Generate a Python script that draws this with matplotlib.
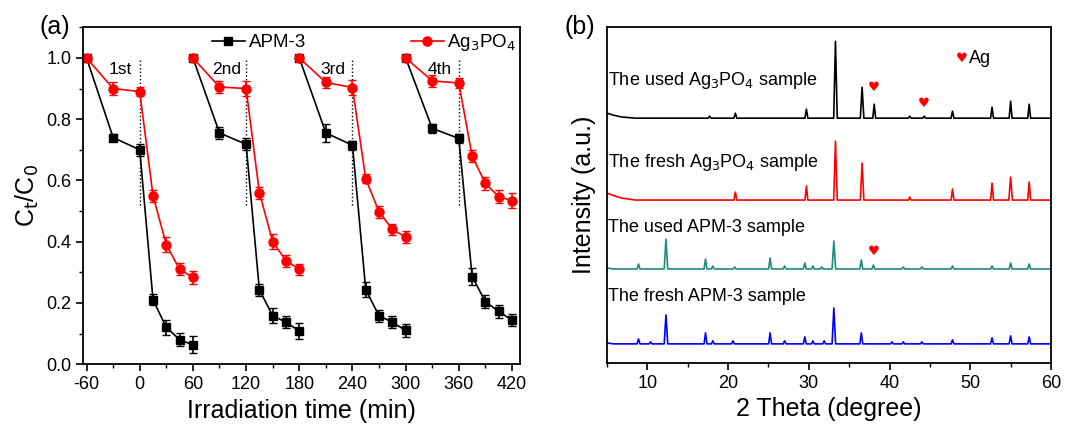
import matplotlib.pyplot as plt
import numpy as np
from matplotlib.ticker import MultipleLocator
from matplotlib.lines import Line2D

plt.rcParams['font.family'] = ['Liberation Sans', 'DejaVu Sans']
plt.rcParams['axes.unicode_minus'] = False

# ---- (a) cycling data ----
cycle_t = [[-60, -30, 0, 15, 30, 45, 60],
           [60, 90, 120, 135, 150, 165, 180],
           [180, 210, 240, 255, 270, 285, 300],
           [300, 330, 360, 375, 390, 405, 420]]
apm = [[1.0, 0.74, 0.70, 0.21, 0.12, 0.08, 0.063],
       [1.0, 0.755, 0.718, 0.243, 0.158, 0.137, 0.108],
       [1.0, 0.755, 0.715, 0.243, 0.158, 0.137, 0.11],
       [1.0, 0.77, 0.737, 0.286, 0.204, 0.172, 0.144]]
apm_err = [[0, 0.012, 0.02, 0.018, 0.025, 0.022, 0.028],
           [0, 0.02, 0.02, 0.02, 0.025, 0.02, 0.025],
           [0, 0.028, 0.015, 0.025, 0.02, 0.02, 0.022],
           [0, 0.015, 0.015, 0.028, 0.022, 0.02, 0.02]]
ag = [[1.0, 0.90, 0.89, 0.55, 0.39, 0.31, 0.283],
      [1.0, 0.905, 0.90, 0.56, 0.40, 0.338, 0.31],
      [1.0, 0.92, 0.903, 0.605, 0.498, 0.44, 0.415],
      [1.0, 0.925, 0.918, 0.68, 0.59, 0.547, 0.534]]
ag_err = [[0, 0.02, 0.015, 0.02, 0.025, 0.02, 0.022],
          [0, 0.018, 0.025, 0.02, 0.025, 0.02, 0.018],
          [0, 0.018, 0.025, 0.015, 0.02, 0.018, 0.02],
          [0, 0.02, 0.015, 0.02, 0.02, 0.022, 0.025]]
cycle_names = ['1st', '2nd', '3rd', '4th']
light_on = [0, 120, 240, 360]

# ---- (b) XRD patterns: baseline, left rise, peak positions and heights ----
xrd_labels = [r'The used Ag$_3$PO$_4$ sample', r'The fresh Ag$_3$PO$_4$ sample',
              'The used APM-3 sample', 'The fresh APM-3 sample']
xrd_colors = ['black', 'red', '#1f8a80', '#0000ff']
xrd_base = [245, 163, 94, 19]
rise_x = [5.0, 5.8, 6.8, 8.5]
xrd_rise = [[5, 3, 1.2, 0], [7, 4.5, 2, 0], [1, 0, 0, 0], [1, 0, 0, 0]]
xrd_pos = [[17.7, 20.9, 29.7, 33.3, 36.6, 38.1, 42.5, 44.3, 47.8, 52.7, 55.0, 57.3],
           [20.9, 29.7, 33.3, 36.6, 42.5, 47.8, 52.7, 55.0, 57.3],
           [8.9, 12.3, 17.2, 18.1, 20.8, 25.2, 27.0, 29.5, 30.5, 31.6, 33.1, 36.5,
            38.0, 41.7, 44.0, 47.8, 52.7, 55.0, 57.3],
           [8.9, 10.4, 12.3, 17.2, 18.1, 20.6, 25.2, 27.0, 29.5, 30.5, 31.9, 33.1,
            36.5, 40.3, 41.7, 44.0, 47.8, 52.7, 55.0, 57.3]]
xrd_h = [[2, 5, 9, 77, 31, 14, 2, 2, 7, 11, 17, 14],
         [8, 14, 59, 37, 3, 11, 17, 23, 18],
         [5, 30, 10, 3, 2, 11, 3, 6, 3, 2, 28, 9, 4, 2, 2, 3, 3, 6, 5],
         [5, 2, 29, 11, 3, 3, 11, 3, 7, 3, 3, 36, 11, 2, 2, 2, 4, 6, 8, 7]]
hearts = [(38.1, 276), (44.3, 260), (38.0, 111)]

fig = plt.figure(figsize=(10.71, 4.33), dpi=100)
ax1 = fig.add_axes([0.0775, 0.159, 0.408, 0.778])
ax2 = fig.add_axes([0.5668, 0.162, 0.4145, 0.775])

for i in range(4):
    ax1.errorbar(cycle_t[i], apm[i], yerr=apm_err[i], color='black', marker='s',
                 markersize=6, linewidth=1.2, capsize=3, elinewidth=1.2)
    ax1.errorbar(cycle_t[i], ag[i], yerr=ag_err[i], color='red', marker='o',
                 markersize=6.5, linewidth=1.2, capsize=3, elinewidth=1.2)
    ax1.plot([light_on[i], light_on[i]], [0.52, 1.0], color='black', linestyle=':',
             linewidth=1.0, zorder=0)
    ax1.text(cycle_t[i][0] + 38, 0.962, cycle_names[i], fontsize=12.5,
             ha='center', va='center')

h1 = Line2D([], [], color='black', marker='s', markersize=6, linewidth=1.2)
h2 = Line2D([], [], color='red', marker='o', markersize=6.5, linewidth=1.2)
ax1.legend([h1, h2], ['APM-3', r'Ag$_3$PO$_4$'], ncol=2, frameon=False,
           loc='upper right', bbox_to_anchor=(1.03, 1.035), fontsize=13.5,
           columnspacing=5.6, handlelength=1.75, handletextpad=0.2)
ax1.set_xlim(-64, 429)
ax1.set_ylim(0, 1.1)
ax1.set_xticks(np.arange(-60, 421, 60))
ax1.xaxis.set_minor_locator(MultipleLocator(30))
ax1.set_yticks(np.arange(0, 1.01, 0.2))
ax1.yaxis.set_minor_locator(MultipleLocator(0.1))
ax1.set_xlabel('Irradiation time (min)', fontsize=18)
ax1.set_ylabel(r'C$_\mathrm{t}$/C$_0$', fontsize=18, labelpad=4)
ax1.text(-0.10, 1.0, '(a)', transform=ax1.transAxes, fontsize=18, va='center')

for i in range(4):
    xs = list(rise_x)
    ys = [xrd_base[i] + r for r in xrd_rise[i]]
    for p, h in zip(xrd_pos[i], xrd_h[i]):
        w = 0.22 if h > 20 else 0.18
        xs += [p - w, p, p + w]
        ys += [xrd_base[i], xrd_base[i] + h, xrd_base[i]]
    xs.append(60.0)
    ys.append(xrd_base[i])
    ax2.plot(xs, ys, color=xrd_colors[i], linewidth=1.2)

ax2.text(5.1, 283, xrd_labels[0], fontsize=13, va='center')
ax2.text(5.1, 201, xrd_labels[1], fontsize=13, va='center')
ax2.text(5.1, 136, xrd_labels[2], fontsize=13, va='center')
ax2.text(5.1, 66, xrd_labels[3], fontsize=13, va='center')
for hx, hy in hearts:
    ax2.text(hx, hy, '\u2665', color='red', fontsize=9.5, ha='center', va='center',
             family='DejaVu Sans')
ax2.text(48.9, 305, '\u2665', color='red', fontsize=9.5, ha='center', va='center',
         family='DejaVu Sans')
ax2.text(49.8, 305, 'Ag', fontsize=13, va='center')

ax2.set_xlim(5, 60)
ax2.set_ylim(0, 336)
ax2.set_xticks(np.arange(10, 61, 10))
ax2.xaxis.set_minor_locator(MultipleLocator(5))
ax2.set_yticks([])
ax2.set_xlabel('2 Theta (degree)', fontsize=18)
ax2.set_ylabel('Intensity (a.u.)', fontsize=18, labelpad=8)
ax2.text(-0.095, 1.0, '(b)', transform=ax2.transAxes, fontsize=18, va='center')

for ax in (ax1, ax2):
    for s in ax.spines.values():
        s.set_linewidth(1.3)
    ax.tick_params(which='major', direction='out', length=5, width=1.2, labelsize=13)
    ax.tick_params(which='minor', direction='out', length=3, width=1.0)

fig.savefig('out.png', dpi=100)
